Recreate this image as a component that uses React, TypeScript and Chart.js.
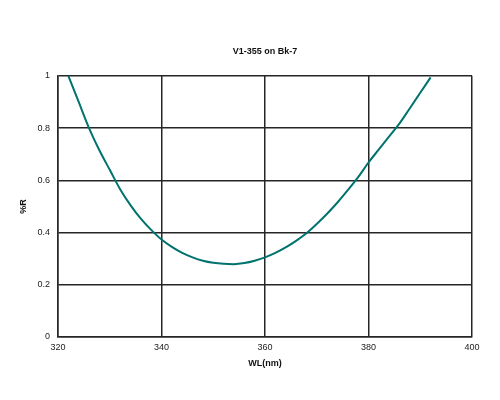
import * as React from 'react';
import {useEffect, useRef} from "react";
import {Chart, registerables} from "chart.js";

Chart.register(...registerables);

// wavelength (nm) and reflectance
const wavelengths = [322, 324, 326, 328, 330, 332, 334, 336, 338, 340, 342, 344, 346, 348, 350,
  352, 354, 356, 358, 360, 362, 364, 366, 368, 370, 372, 374, 376, 378, 380, 382, 384, 386, 388, 390, 392];
const reflectance = [1.0, 0.9, 0.8, 0.715, 0.64, 0.566, 0.505, 0.453, 0.41, 0.373, 0.345, 0.322, 0.305, 0.292, 0.284,
  0.28, 0.279, 0.283, 0.292, 0.305, 0.322, 0.343, 0.368, 0.397, 0.433, 0.472, 0.515, 0.562, 0.612, 0.668,
  0.718, 0.768, 0.818, 0.876, 0.935, 0.994];

const chartTitle = 'V1-355 on Bk-7';
const xTitle = 'WL(nm)';
const yTitle = '%R';

const FONT = "'Liberation Sans', Arial, sans-serif";
const GRID = '#262626';

export default function App() {
  const canvasRef = useRef<HTMLCanvasElement | null>(null);

  useEffect(() => {
    const canvas = canvasRef.current;
    if (!canvas) return;
    const points = wavelengths.map((w, i) => ({x: w, y: reflectance[i]}));
    const chart = new Chart(canvas, {
      type: 'line',
      data: {
        datasets: [{
          data: points,
          borderColor: '#00736f',
          borderWidth: 2,
          pointRadius: 0,
          fill: false,
          cubicInterpolationMode: 'monotone',
        }]
      },
      options: {
        responsive: false,
        animation: false,
        layout: {padding: {left: 0, right: 28, top: 0, bottom: 0}},
        plugins: {
          legend: {display: false},
          tooltip: {enabled: false},
          title: {
            display: true,
            fullSize: false,
            text: chartTitle,
            color: '#111',
            font: {family: FONT, size: 9, weight: 'bold'},
            padding: {top: 46, bottom: 19},
          },
        },
        scales: {
          x: {
            type: 'linear',
            min: 320,
            max: 400,
            ticks: {stepSize: 20, color: '#222', font: {family: FONT, size: 9}, padding: 5},
            grid: {color: GRID, lineWidth: 1.5, drawTicks: false},
            border: {color: GRID, width: 1.5},
            title: {
              display: true,
              text: xTitle,
              color: '#111',
              font: {family: FONT, size: 9, weight: 'bold'},
              padding: {top: 0, bottom: 31},
            },
            afterFit: (scale: any) => { scale.height = 63; },
          },
          y: {
            min: 0,
            max: 1,
            ticks: {
              stepSize: 0.2,
              color: '#222',
              font: {family: FONT, size: 9},
              padding: 8,
              callback: (v: any) => String(Math.round(Number(v) * 10) / 10),
            },
            grid: {color: GRID, lineWidth: 1.5, drawTicks: false},
            border: {color: GRID, width: 1.5},
            title: {
              display: true,
              text: yTitle,
              color: '#111',
              font: {family: FONT, size: 9, weight: 'bold'},
              padding: {top: 18, bottom: 0},
            },
            afterFit: (scale: any) => { scale.width = 58; },
          },
        },
      },
    });
    return () => chart.destroy();
  }, []);

  return (
    <div style={{position: 'absolute', left: 0, top: 0, width: 500, height: 400, background: '#fff'}}>
      <canvas ref={canvasRef} width={500} height={400}></canvas>
    </div>
  );
}
